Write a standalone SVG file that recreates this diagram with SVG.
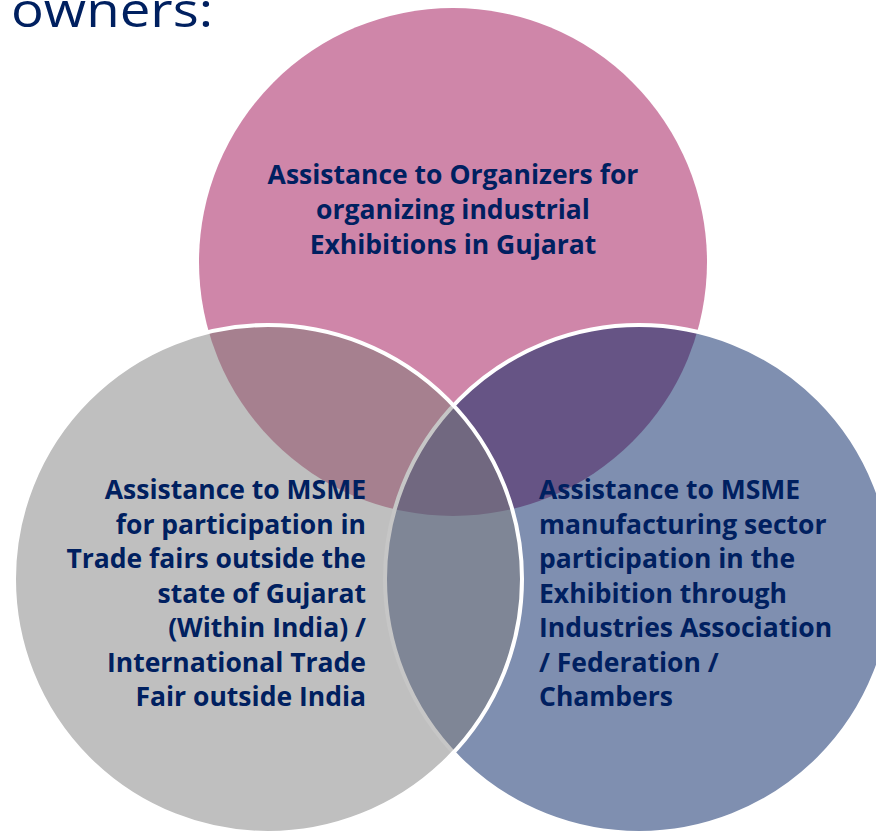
<svg xmlns="http://www.w3.org/2000/svg" width="876" height="832" viewBox="0 0 876 832">
<style>
.lbl{font-family:"Open Sans","Liberation Sans",sans-serif;font-weight:700;font-size:26.5px;fill:#002060}
.title{font-family:"Open Sans","Liberation Sans",sans-serif;font-size:48px;fill:#002060}
.ws{fill:none;stroke:#ffffff;stroke-width:4}
</style>
<defs>
<circle id="cP" cx="453" cy="262" r="254"/>
<circle id="cG" cx="268" cy="579" r="254"/>
<circle id="cB" cx="639" cy="579" r="254"/>
<clipPath id="clipP"><use href="#cP"/></clipPath>
<clipPath id="clipG"><use href="#cG"/></clipPath>
<clipPath id="clipB"><use href="#cB"/></clipPath>
</defs>
<rect width="876" height="832" fill="#ffffff"/>
<g id="title"><text class="title" x="11" y="27" textLength="202" lengthAdjust="spacingAndGlyphs">owners:</text></g>
<g id="node-top">
<use href="#cP" fill="#CF86A9"/>
<text class="lbl" text-anchor="middle"><tspan x="453" y="184">Assistance to Organizers for</tspan><tspan x="453" y="219">organizing industrial</tspan><tspan x="453" y="254">Exhibitions in Gujarat</tspan></text>
</g>
<g id="node-right">
<use href="#cB" fill="#7F8FB0"/>
<use href="#cP" fill="#665485" clip-path="url(#clipB)"/>
<use href="#cB" class="ws"/>
<text class="lbl"><tspan x="539" y="499">Assistance to MSME</tspan><tspan x="539" y="533.5">manufacturing sector</tspan><tspan x="539" y="568">participation in the</tspan><tspan x="539" y="602.5">Exhibition through</tspan><tspan x="539" y="637">Industries Association</tspan><tspan x="539" y="671.5">/ Federation /</tspan><tspan x="539" y="706">Chambers</tspan></text>
</g>
<g id="node-left">
<use href="#cG" fill="#BFBFBF"/>
<use href="#cP" fill="#A6808F" clip-path="url(#clipG)"/>
<use href="#cB" fill="#7F8696" clip-path="url(#clipG)"/>
<g clip-path="url(#clipB)"><use href="#cP" fill="#716880" clip-path="url(#clipG)"/></g>
<use href="#cB" fill="none" stroke="#C6C6C6" stroke-width="4" clip-path="url(#clipG)"/>
<use href="#cG" class="ws"/>
<text class="lbl" text-anchor="end"><tspan x="366" y="499">Assistance to MSME</tspan><tspan x="366" y="533.5">for participation in</tspan><tspan x="366" y="568">Trade fairs outside the</tspan><tspan x="366" y="602.5">state of Gujarat</tspan><tspan x="366" y="637">(Within India) /</tspan><tspan x="366" y="671.5">International Trade</tspan><tspan x="366" y="706">Fair outside India</tspan></text>
</g>
</svg>
